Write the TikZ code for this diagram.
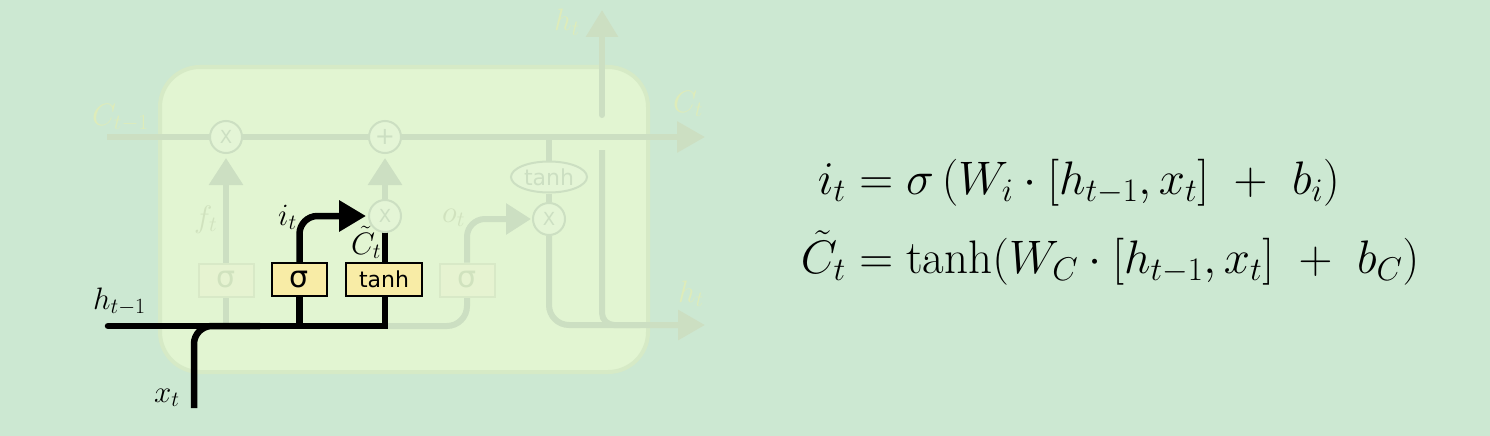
\RequirePackage{fix-cm}
\documentclass[tikz,border=0pt]{standalone}
\usepackage{fontspec}
\newfontfamily\dejavu{DejaVu Sans}
\usetikzlibrary{arrows.meta,shapes.geometric}
\pgfdeclarelayer{bglayer}
\pgfdeclarelayer{lines}
\pgfsetlayers{bglayer,lines,main}
\definecolor{bgc}{RGB}{204,232,210}
\definecolor{cellfill}{RGB}{226,245,210}
\definecolor{celldraw}{RGB}{214,234,198}
\definecolor{fadeline}{RGB}{204,223,194}
\definecolor{fadetext}{RGB}{222,236,186}
\definecolor{fadeintext}{RGB}{208,226,190}
\definecolor{fadebox}{RGB}{230,243,209}
\definecolor{fadeboxdraw}{RGB}{216,233,199}
\definecolor{fadecirc}{RGB}{228,245,214}
\definecolor{yellowbox}{RGB}{248,236,166}
\tikzset{
  opc/.style={circle, draw=fadeline, line width=2pt, fill=fadecirc, minimum size=32pt, inner sep=0pt, text=fadeline, font=\dejavu\fontsize{18}{18}\selectfont},
  gatebox/.style={rectangle, draw=black, line width=2pt, fill=yellowbox, inner sep=0pt, minimum height=33pt},
  fadegate/.style={rectangle, draw=fadeboxdraw, line width=2pt, fill=fadebox, text=fadeintext, inner sep=0pt, minimum height=33pt, minimum width=55pt, font=\dejavu\fontsize{30}{30}\selectfont},
  fline/.style={draw=fadeline, line width=6pt},
  bline/.style={draw=black, line width=6.5pt},
  lab/.style={font=\fontsize{31}{37}\selectfont, inner sep=0pt, anchor=base west},
  flab/.style={lab, text=fadetext},
  filab/.style={lab, text=fadeintext},
  eq/.style={font=\fontsize{47}{56}\selectfont, inner sep=0pt},
  sigfont/.style={font=\dejavu\fontsize{30}{30}\selectfont},
  tanhfont/.style={font=\dejavu\fontsize{22}{22}\selectfont}
}
\begin{document}
\begin{tikzpicture}[x=1pt,y=-1pt]
\useasboundingbox (0,0) rectangle (1490,436);
\begin{pgfonlayer}{bglayer}
\fill[bgc] (0,0) rectangle (1490,436);
\draw[celldraw, fill=cellfill, line width=4pt, rounded corners=40pt] (160,67) rectangle (648,372);
\end{pgfonlayer}

% operation nodes
\node[opc] (mulf) at (226,137) {X};
\node[opc, font=\dejavu\fontsize{24}{24}\selectfont] (add) at (385,137) {+};
\node[opc] (muli) at (385,216) {X};
\node[opc] (mulo) at (549,219) {X};
\node[ellipse, draw=fadeline, line width=2pt, fill=fadecirc, minimum width=76pt, minimum height=31pt, inner sep=0pt, text=fadeline, tanhfont] (tanhc) at (549,177) {tanh};

% gate boxes
\node[fadegate] (sigf) at (226,280) {σ};
\node[gatebox, minimum width=55pt, sigfont] (sigi) at (299.5,279.5) {σ};
\node[gatebox, minimum width=76pt, tanhfont] (tanhi) at (384,279.5) {tanh};
\node[fadegate] (sigo) at (467,280) {σ};

% coordinates
\coordinate (cin) at (107,137);
\coordinate (cout) at (705,137);
\coordinate (ctap) at (549,137);
\coordinate (hin) at (108,326);
\coordinate (hcorner) at (385,326);
\coordinate (fbase) at (226,326);
\coordinate (ibase) at (299.5,326);
\coordinate (xin) at (194,408);
\coordinate (xjoin) at (260,326);
\coordinate (hout) at (705,325);
\coordinate (htlow) at (602,150);
\coordinate (htjoin) at (640,325);
\coordinate (htup) at (602,115);
\coordinate (httop) at (602,10);

\begin{pgfonlayer}{lines}
% faded connectors
\draw[fline, -{Triangle[length=28pt,width=30pt]}] (cin) -- (cout);
\draw[fline] (fbase) -- (sigf.south);
\draw[fline, -{Triangle[length=27pt,width=33pt]}, shorten >=4pt] (sigf.north) -- (mulf.south);
\draw[fline, -{Triangle[length=27pt,width=33pt]}, shorten >=4pt] (muli.north) -- (add.south);
\draw[fline] (ctap) -- (tanhc.north);
\draw[fline] (tanhc.south) -- (mulo.north);
\draw[fline, rounded corners=20pt] (hcorner) -| (sigo.south);
\draw[fline, rounded corners=18pt, -{Triangle[length=25pt,width=30pt]}, shorten >=1pt] (sigo.north) |- (mulo.west);
\draw[fline, rounded corners=20pt, -{Triangle[length=27pt,width=29pt]}] (mulo.south) |- (hout);
\draw[fline, rounded corners=12pt] (htlow) |- (htjoin);
\draw[fline, line cap=round, -{Triangle[length=27pt,width=31pt]}] (htup) -- (httop);
% black connectors
\draw[bline, line cap=round] (hin) -| (muli.south);
\draw[bline, rounded corners=18pt] (xin) |- (xjoin);
\draw[bline] (ibase) -- (sigi.south);
\draw[bline, rounded corners=18pt, -{Triangle[length=27pt,width=30pt]}, shorten >=2pt] (sigi.north) |- (muli.west);
\end{pgfonlayer}

% labels
\node[lab] (lhm1) at (93,309) {$h_{t-1}$};
\node[lab] (lxt) at (154,402) {$x_t$};
\node[lab] (lit) at (278,225) {$i_t$};
\node[lab] (lct) at (351,254) {$\tilde{C}_t$};
\node[filab] (lft) at (194,227) {$f_t$};
\node[filab] (lot) at (442,222) {$o_t$};
\node[flab] (lht1) at (554,31) {$h_t$};
\node[flab] (lcto) at (673,112) {$C_t$};
\node[flab] (lht2) at (678,302) {$h_t$};
\node[flab] (lctm) at (92,125) {$C_{t-1}$};

% equations
\node[eq, anchor=base east] (l1) at (846,194) {$i_t$};
\node[eq, anchor=base west] (r1) at (846,194) {${}=\sigma\,(W_i\cdot[h_{t-1},x_t]\ +\ b_i)$};
\node[eq, anchor=base east] (l2) at (846,273) {$\tilde C_t$};
\node[eq, anchor=base west] (r2) at (846,273) {${}=\tanh(W_C\cdot[h_{t-1},x_t]\ +\ b_C)$};
\end{tikzpicture}
\end{document}
